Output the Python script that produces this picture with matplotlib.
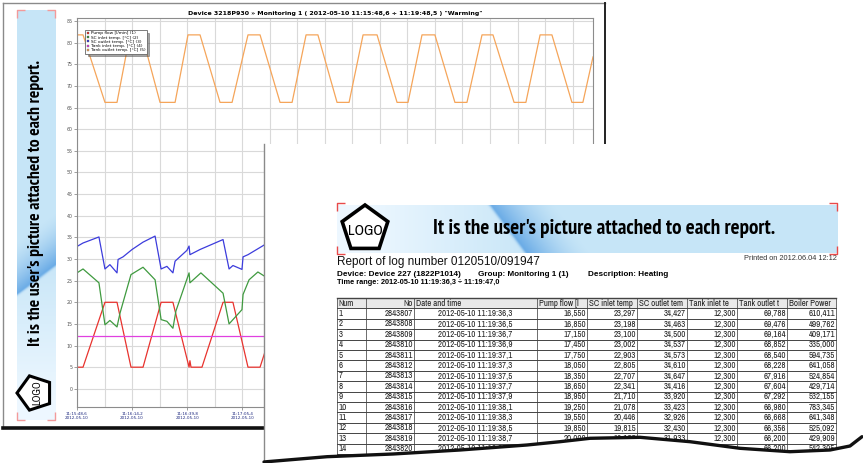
import numpy as np
import matplotlib.pyplot as plt
from matplotlib.lines import Line2D
from matplotlib.patches import Rectangle, RegularPolygon, Polygon

W, H = 863, 463

# ---- chart data (seconds after 2012-05-10 11:15:48,6) ----
tank_out_t = [0.0, 2.8, 13.0, 18.6, 24.6, 30.2, 38.6, 45.6, 51.6, 57.2, 66.5, 72.1,
              79.5, 85.1, 94.4, 100.0, 106.5, 112.0, 120.9, 126.5, 133.0, 139.5, 148.8, 153.9,
              160.4, 166.4, 175.7, 181.3, 188.3, 193.4, 203.2, 208.7, 215.3, 220.8, 230.1, 235.2, 239.9]
tank_out_v = [81.8, 81.8, 66.2, 66.2, 81.8, 81.8, 66.2, 66.2, 81.8, 81.8, 66.2, 66.2,
              81.8, 81.8, 66.2, 66.2, 81.8, 81.8, 66.2, 66.2, 81.8, 81.8, 66.2, 66.2,
              81.8, 81.8, 66.2, 66.2, 81.8, 81.8, 66.2, 66.2, 81.8, 81.8, 66.2, 66.2, 76.7]

pump_t = [0.0, 2.8, 13.0, 18.6, 25.1, 30.7, 39.1, 44.6, 52.1, 52.5, 53.0, 58.1, 67.9, 72.5, 79.5, 85.1, 87.9]
pump_v = [5, 5, 20, 20, 5, 5, 20, 20, 5, 6.5, 5, 5, 20, 20, 5, 5, 9.3]

sc_in_t = [0.0, 2.8, 10.2, 13.0, 15.3, 18.6, 20.0, 25.1, 30.7, 36.3, 39.1, 41.8,
           44.6, 46.0, 52.1, 52.5, 57.6, 67.9, 70.7, 76.7, 77.2, 80.0, 84.1, 87.9]
sc_in_v = [26.8, 27.7, 24.5, 14.8, 15.8, 14.3, 17.5, 26.4, 28.1, 25.2, 16.0, 15.6,
           14.0, 18.0, 26.8, 24.5, 26.8, 22.1, 15.0, 18.3, 21.8, 25.2, 27.0, 25.8]

sc_out_t = [0.0, 2.8, 10.2, 13.0, 15.3, 18.6, 19.1, 21.4, 25.6, 30.7, 36.3, 39.1, 41.8,
            44.6, 45.6, 51.1, 52.1, 52.5, 57.2, 67.9, 70.7, 72.5, 76.7, 77.2, 79.5, 87.9]
sc_out_v = [32.9, 33.7, 35.1, 27.7, 28.7, 26.8, 29.9, 30.5, 32.2, 33.9, 35.3, 27.7, 28.3,
            26.8, 29.5, 32.0, 33.0, 31.0, 32.2, 34.5, 27.7, 28.5, 27.6, 30.5, 31.0, 33.5]

tank_in_t = [0.0, 239.9]
tank_in_v = [12.3, 12.3]

series_labels = ["Pump flow [l/min] (1)", "SC inlet temp. [\u00b0C] (2)", "SC outlet temp. [\u00b0C] (3)",
                 "Tank inlet temp. [\u00b0C] (4)", "Tank outlet temp. [\u00b0C] (5)"]
series_colors = ["#e8332e", "#3f9a3f", "#3c3cdc", "#e040e0", "#f5a55a"]

# only the first four tick labels are not covered by the front page
tick_secs = [0.0, 25.6, 51.2, 76.8]
tick_labels = ["11:15:48,6", "11:16:14,2", "11:16:39,8", "11:17:05,4"]
tick_date = "2012-05-10"
chart_title = 'Device 3218P930 \u00bb Monitoring 1 ( 2012-05-10 11:15:48,6 \u00f7 11:19:48,5 ) "Warming"'

# ---- report table data ----
col_names = ["Num", "No", "Date and time", "Pump flow [l", "SC inlet temp", "SC outlet tem",
             "Tank inlet te", "Tank outlet t", "Boiler Power"]
t_num = ["1", "2", "3", "4", "5", "6", "7", "8", "9", "10", "11", "12", "13", "14"]
t_no = ["2843807", "2843808", "2843809", "2843810", "2843811", "2843812", "2843813",
        "2843814", "2843815", "2843816", "2843817", "2843818", "2843819", "2843820"]
t_time = ["2012-05-10 11:19:36,3", "2012-05-10 11:19:36,5", "2012-05-10 11:19:36,7",
          "2012-05-10 11:19:36,9", "2012-05-10 11:19:37,1", "2012-05-10 11:19:37,3",
          "2012-05-10 11:19:37,5", "2012-05-10 11:19:37,7", "2012-05-10 11:19:37,9",
          "2012-05-10 11:19:38,1", "2012-05-10 11:19:38,3", "2012-05-10 11:19:38,5",
          "2012-05-10 11:19:38,7", "2012-05-10 11:19:38,9"]
t_pump = ["16,550", "16,850", "17,150", "17,450", "17,750", "18,050", "18,350",
          "18,650", "18,950", "19,250", "19,550", "19,850", "20,000", ""]
t_sc_in = ["23,297", "23,198", "23,100", "23,002", "22,903", "22,805", "22,707",
           "22,341", "21,710", "21,078", "20,446", "19,815", "19,183", ""]
t_sc_out = ["34,427", "34,463", "34,500", "34,537", "34,573", "34,610", "34,647",
            "34,416", "33,920", "33,423", "32,926", "32,430", "31,933", ""]
t_tank_in = ["12,300"] * 13 + [""]
t_tank_out = ["69,788", "69,476", "69,164", "68,852", "68,540", "68,228", "67,916",
              "67,604", "67,292", "66,980", "66,668", "66,356", "66,200", "66,200"]
t_boiler = ["610,411", "499,762", "409,171", "335,000", "594,735", "641,058", "524,854",
            "429,714", "532,155", "783,345", "641,348", "525,092", "429,909", "542,305"]

banner_text = "It is the user's picture attached to each report."
report_title = "Report of log number 0120510/091947"
device_txt = "Device: Device 227 (1822P1014)"
group_txt = "Group: Monitoring 1 (1)"
descr_txt = "Description: Heating"
range_txt = "Time range: 2012-05-10 11:19:36,3 \u00f7 11:19:47,0"
printed_txt = "Printed on 2012.06.04 12:12"

BOLDNARROW = ["PT Sans Narrow", "Barlow Condensed", "Saira Condensed", "Archivo Narrow", "DejaVu Sans"]
NARROW = ["Archivo Narrow", "DejaVu Sans"]
SANS = ["Liberation Sans", "DejaVu Sans"]


def banner_img(w, h):
    x = np.linspace(0, 1, w)[None, :]
    y = np.linspace(0, 1, h)[:, None]
    white = np.array([0.93, 0.97, 1.0])
    light = np.array([0.78, 0.90, 0.97])
    dark = np.array([0.30, 0.60, 0.88])
    t = np.clip((x - 0.05) / 0.35, 0, 1)[..., None]
    img = white * (1 - t) + light * t
    d = x - (0.31 + 0.07 * y)
    band = np.where(d >= 0, np.clip(1 - d / 0.13, 0, 1) ** 1.6, np.exp(-(d / 0.006) ** 2))
    band = (band * 0.75)[..., None]
    img = img * (1 - band) + dark * band
    return np.clip(img, 0, 1)


def brackets(ax, x0, y0, x1, y1, color, arm=8):
    kw = dict(color=color, lw=1.0, solid_capstyle='butt', zorder=6)
    for (cx, cy, sx, sy) in [(x0, y0, 1, 1), (x1, y0, -1, 1), (x0, y1, 1, -1), (x1, y1, -1, -1)]:
        ax.plot([cx + sx * arm, cx, cx], [cy, cy, cy + sy * arm], **kw)


fig = plt.figure(figsize=(W / 100, H / 100), dpi=100)
fig.patch.set_facecolor('white')

# ---- back page ----
bg = fig.add_axes([0, 0, 1, 1], zorder=0)
bg.set_xlim(0, W)
bg.set_ylim(H, 0)
bg.axis('off')
bg.plot([3, 605], [3, 3], color='#8a8a8a', lw=1)
bg.plot([3, 3], [3, 428], color='#8a8a8a', lw=1)
bg.plot([605, 605], [3, 150], color='#222', lw=1.4)
bg.plot([3, 270], [428, 428], color='#111', lw=2.6)

bg.imshow(np.rot90(banner_img(400, 40)), extent=(17, 55, 420, 10), aspect='auto', zorder=2)
brackets(bg, 17, 10, 55, 420, '#f39a9a')
bg.text(36, 203, banner_text, rotation=90, ha='center', va='center', fontsize=12.6,
        fontweight='bold', family=BOLDNARROW, zorder=5)
bg.add_patch(RegularPolygon((35, 393), 5, radius=18, orientation=np.pi / 2, facecolor='white',
                            edgecolor='black', lw=2.2, zorder=5))
bg.text(37, 393, "LOGO", rotation=90, ha='center', va='center', fontsize=7.5,
        family=NARROW, zorder=6)

# ---- chart ----
ax = fig.add_axes([77 / W, 1 - 407 / H, 516 / W, 389 / H], zorder=1)
ax.plot(pump_t, pump_v, color=series_colors[0], lw=0.9)
ax.plot(sc_in_t, sc_in_v, color=series_colors[1], lw=0.9)
ax.plot(sc_out_t, sc_out_v, color=series_colors[2], lw=0.9)
ax.plot(tank_in_t, tank_in_v, color=series_colors[3], lw=0.9)
ax.plot(tank_out_t, tank_out_v, color=series_colors[4], lw=0.9)
ax.set_xlim(0, 239.9)
ax.set_ylim(-4.2, 85.7)
ax.set_yticks(np.arange(0, 86, 5))
ax.tick_params(axis='y', labelsize=3.4, labelcolor='#555', length=2.2, width=0.5, pad=1, color='#777')
ax.set_xticks(tick_secs)
ax.set_xticklabels([f"{s}\n{tick_date}" for s in tick_labels])
ax.set_xticks(np.arange(12.8, 239.9, 12.8), minor=True)
ax.tick_params(axis='x', labelsize=3.0, labelcolor='#1f2a80', length=2.5, width=0.5, pad=1, color='#777')
ax.tick_params(axis='x', which='minor', length=0)
ax.grid(True, which='both', color='#d9d9d9', lw=0.8)
ax.set_axisbelow(True)
for s in ax.spines.values():
    s.set_color('#8c8c8c')
    s.set_linewidth(0.8)
ax.set_title(chart_title, fontsize=4.5, fontweight='bold', pad=2.2)
handles = [Line2D([], [], marker='s', ls='none', color=c, markersize=2.0,
                  markeredgecolor='#444', markeredgewidth=0.2) for c in series_colors]
leg = ax.legend(handles, series_labels, loc='upper left', bbox_to_anchor=(0.0155, 0.969),
                borderaxespad=0, fontsize=3.1, labelspacing=0.05, handletextpad=0.2,
                borderpad=0.3, handlelength=0.8, fancybox=False, shadow=True, framealpha=1)
leg.get_frame().set_edgecolor('#666')
leg.get_frame().set_linewidth(0.6)

# ---- front page ----
fr = fig.add_axes([0, 0, 1, 1], zorder=3)
fr.set_facecolor('none')
fr.set_xlim(0, W)
fr.set_ylim(H, 0)
fr.axis('off')
fr.add_patch(Rectangle((264, 144), W - 264, H - 144, facecolor='white', edgecolor='none', zorder=1))
fr.plot([264, 264], [144, 462], color='#8a8a8a', lw=1, zorder=2)

fr.imshow(banner_img(500, 48), extent=(337, 837, 253, 205), aspect='auto', zorder=2)
brackets(fr, 337, 203, 837, 254, '#e84a4a')
fr.add_patch(RegularPolygon((365, 229), 5, radius=24, orientation=np.pi, facecolor='white',
                            edgecolor='black', lw=2.6, zorder=4))
fr.text(365, 231, "LOGO", ha='center', va='center', fontsize=10.5, family=NARROW, zorder=5)
fr.text(604, 228, banner_text, ha='center', va='center', fontsize=15.1, fontweight='bold',
        family=BOLDNARROW, zorder=5)

fr.text(337, 262, report_title, ha='left', va='center', fontsize=8.5, family=SANS, color='#111', zorder=5)
fr.text(837, 259, printed_txt, ha='right', va='center', fontsize=5.3, family=SANS, color='#333', zorder=5)
fr.text(337, 274, device_txt, ha='left', va='center', fontsize=5.9, fontweight='bold', family=SANS, zorder=5)
fr.text(478, 274, group_txt, ha='left', va='center', fontsize=5.9, fontweight='bold', family=SANS, zorder=5)
fr.text(588, 274, descr_txt, ha='left', va='center', fontsize=5.9, fontweight='bold', family=SANS, zorder=5)
fr.text(337, 283, range_txt, ha='left', va='center', fontsize=5.3, fontweight='bold', family=SANS, zorder=5)

# table
col_x = [337, 366, 414, 537, 587, 637, 687, 737, 787, 836]
top, head_h, row_h = 298.3, 10.0, 10.4
n_rows = len(t_num)
bottom = top + head_h + row_h * n_rows
fr.add_patch(Rectangle((col_x[0], top), col_x[-1] - col_x[0], head_h, facecolor='#e9e9e9',
                       edgecolor='none', zorder=3))
for x in col_x:
    fr.plot([x, x], [top, bottom], color='#555', lw=0.6, zorder=4)
for i in range(n_rows + 2):
    y = top if i == 0 else top + head_h + row_h * (i - 1)
    fr.plot([col_x[0], col_x[-1]], [y, y], color='#444', lw=0.7 if i > 0 else 1.0, zorder=4)

tfont = dict(fontsize=6.4, family=NARROW, color='#222', zorder=5, va='center')
for j, name in enumerate(col_names):
    if j == 1:
        fr.text(col_x[j + 1] - 1, top + head_h / 2, name, ha='right', **tfont)
    else:
        fr.text(col_x[j] + 1.5, top + head_h / 2, name, ha='left', **tfont)

columns = [t_num, t_no, t_time, t_pump, t_sc_in, t_sc_out, t_tank_in, t_tank_out, t_boiler]
for i in range(n_rows):
    yc = top + head_h + row_h * i + row_h / 2
    for j, col in enumerate(columns):
        if j == 0:
            fr.text(col_x[0] + 1.5, yc, col[i], ha='left', **tfont)
        elif j == 2:
            fr.text((col_x[2] + col_x[3]) / 2, yc, col[i], ha='center', **tfont)
        else:
            fr.text(col_x[j + 1] - 1, yc, col[i], ha='right', **tfont)

# torn bottom edge
edge_x = [264, 267, 327, 393, 460, 527, 560, 590, 640, 690, 740, 790, 830, 850, 862]
edge_y = [462, 461.7, 456.7, 454, 450, 445, 441.7, 438.3, 437.3, 441.7, 448.3, 451.7, 450, 446, 436.7]
fr.add_patch(Polygon(list(zip(edge_x, edge_y)) + [(863, 436.7), (863, 463), (264, 463)],
                     closed=True, facecolor='white', edgecolor='none', zorder=8))
fr.plot(edge_x, edge_y, color='#111', lw=2.4, solid_capstyle='round', zorder=9)

fig.savefig('out.png', dpi=100, facecolor='white')
